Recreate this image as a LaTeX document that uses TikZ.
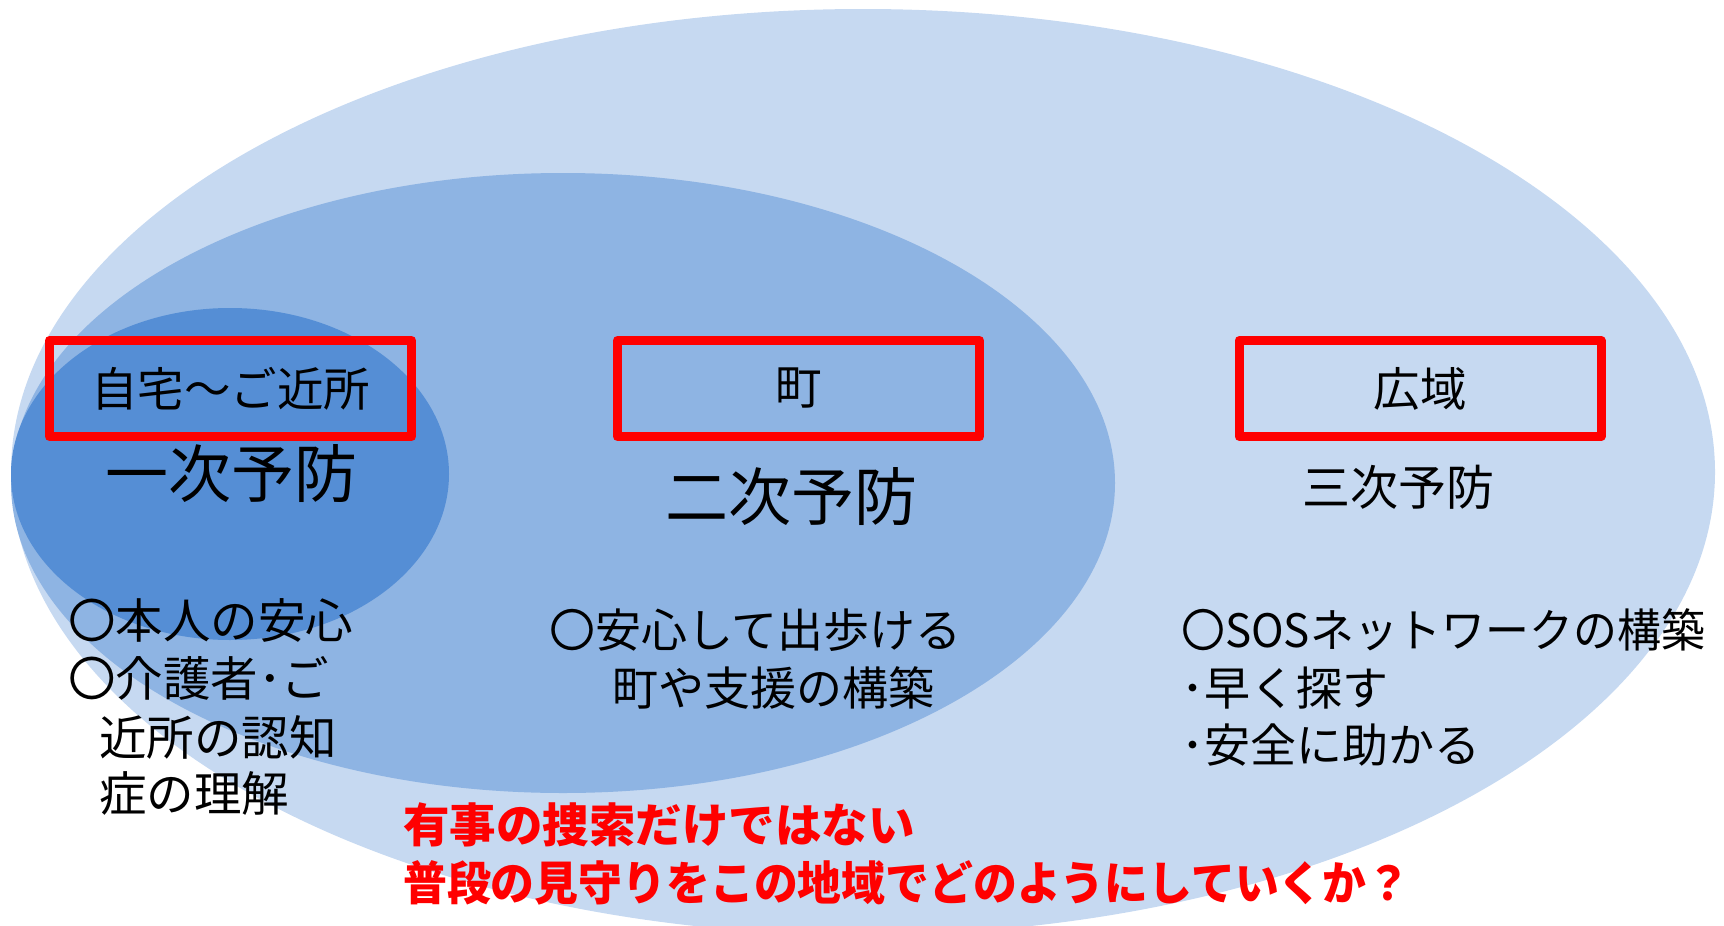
\documentclass[tikz,border=0pt]{standalone}
\usepackage{fontspec}
\setmainfont{Noto Sans CJK JP}
\usetikzlibrary{shapes.geometric}
\definecolor{outerc}{HTML}{C6D9F1}
\definecolor{midc}{HTML}{8EB4E3}
\definecolor{innerc}{HTML}{558ED5}
\definecolor{redc}{HTML}{FF0000}
\newcommand{\setfs}[1]{\fontsize{#1pt}{#1pt}\selectfont}
\begin{document}
\begin{tikzpicture}[x=1pt,y=-1pt,
  zone/.style={ellipse, inner sep=0pt, draw=none},
  redbox/.style={draw=redc, line width=9pt, line join=round, minimum width=362pt,
    minimum height=96pt, inner sep=0pt, font=\setfs{46.5}},
  head/.style={inner sep=0pt},
  item/.style={inner sep=0pt, anchor=west, font=\setfs{46}},
  note/.style={inner sep=0pt, anchor=west, text=redc, font=\setfs{46.5}\bfseries}]
\useasboundingbox (0,0) rectangle (1724,926);
% zones
\node[zone, fill=outerc, minimum width=1704pt, minimum height=926pt] (outer) at (863,472) {};
\node[zone, fill=midc, minimum width=1104pt, minimum height=620pt] (middle) at (563,483) {};
\node[zone, fill=innerc, minimum width=438pt, minimum height=332pt] (inner) at (230,474) {};
% red boxes
\node[redbox] (b1) at (230.5,388.5) {自宅～ご近所};
\node[redbox] (b2) at (798.5,388.5) {町};
\node[redbox] (b3) at (1420,388.5) {広域};
% headings
\node[head, font=\setfs{63}] (h1) at (231,474) {一次予防};
\node[head, font=\setfs{63}] (h2) at (791,497) {二次予防};
\node[head, font=\setfs{48}] (h3) at (1398,487) {三次予防};
% left list
\node[item, font=\setfs{47.5}] (l1) at (68,620) {〇本人の安心};
\node[item, font=\setfs{47.5}] (l2) at (68,678) {〇介護者･ご};
\node[item, font=\setfs{47.5}] (l3) at (99,737) {近所の認知};
\node[item, font=\setfs{47.5}] (l4) at (99,793) {症の理解};
% centre list
\node[item] (c1) at (549,630) {〇安心して出歩ける};
\node[item] (c2) at (612,688) {町や支援の構築};
% right list
\node[item] (r1) at (1181,630) {\scalebox{0.955}[1]{〇SOSネットワークの構築}};
\node[item] (r2) at (1181,688) {･早く探す};
\node[item] (r3) at (1181,745) {･安全に助かる};
% red note
\node[note] (n1) at (403,825) {有事の捜索だけではない};
\node[note] (n2) at (403,883) {\scalebox{0.943}[1]{普段の見守りをこの地域でどのようにしていくか？}};
\end{tikzpicture}
\end{document}
